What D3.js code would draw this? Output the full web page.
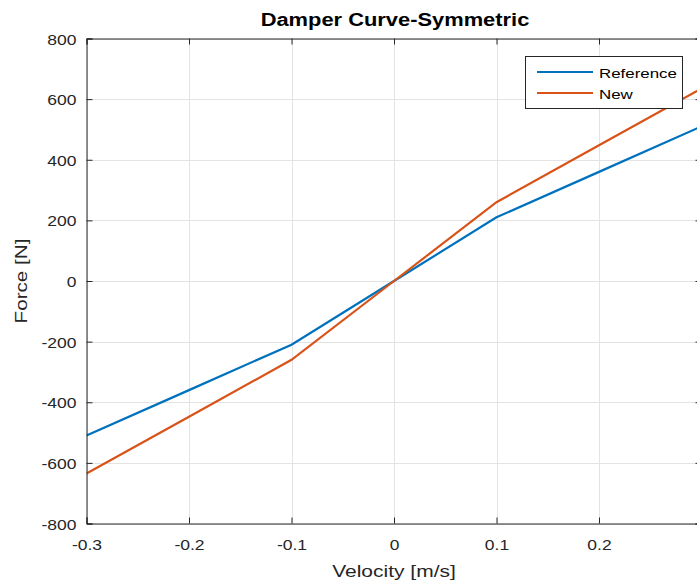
<!DOCTYPE html>
<html>
<head>
<meta charset="utf-8">
<script src="https://cdn.jsdelivr.net/npm/d3@7"></script>
<style>
  html, body { margin: 0; padding: 0; background: #fff; overflow: hidden; }
  text { font-family: "Liberation Sans", Arial, Helvetica, sans-serif; }
</style>
</head>
<body>
<svg id="chart" width="697" height="588"></svg>
<script>
const velocity = [-0.3, -0.2, -0.1, 0, 0.1, 0.2, 0.3];
const referenceForce = [-510, -360, -210, 0, 210, 360, 510];
const newForce = [-635, -448, -260, 0, 260, 448, 635];
const seriesNames = ["Reference", "New"];
const seriesColors = ["#0072BD", "#D95319"];
const xTicks = [-0.3, -0.2, -0.1, 0, 0.1, 0.2];
const yTicks = [-800, -600, -400, -200, 0, 200, 400, 600, 800];

(function () {
const svg = d3.select("#chart");
const pL = 86.5, pR = 701.5, pT = 38.5, pB = 523.5;
const x = d3.scaleLinear().domain([-0.3, 0.3]).range([pL, pR]);
const y = d3.scaleLinear().domain([-800, 800]).range([pB, pT]);
const fmt = d => String(d);

svg.append("rect").attr("x", pL).attr("y", pT).attr("width", pR - pL).attr("height", pB - pT).attr("fill", "#fff");

// grid
const g = svg.append("g");
g.selectAll(".vg").data(xTicks).enter().append("line")
  .attr("x1", d => Math.round(x(d)) + 0.5).attr("x2", d => Math.round(x(d)) + 0.5)
  .attr("y1", pT).attr("y2", pB).attr("stroke", "#e3e3e3").attr("stroke-width", 1);
g.selectAll(".hg").data(yTicks).enter().append("line")
  .attr("y1", d => Math.round(y(d)) + 0.5).attr("y2", d => Math.round(y(d)) + 0.5)
  .attr("x1", pL).attr("x2", pR).attr("stroke", "#e3e3e3").attr("stroke-width", 1);

// clip
svg.append("clipPath").attr("id", "clip").append("rect")
  .attr("x", pL).attr("y", pT).attr("width", pR - pL).attr("height", pB - pT);

const series = [referenceForce, newForce];
const line = d3.line().x((d, i) => x(velocity[i])).y(d => y(d));
series.forEach((s, k) => {
  svg.append("path").datum(s).attr("d", line).attr("fill", "none")
    .attr("stroke", seriesColors[k]).attr("stroke-width", 2.2)
    .attr("clip-path", "url(#clip)");
});

// axes
const axisColor = "#262626";
const xAxisB = d3.axisBottom(x).tickValues(xTicks).tickSize(-6).tickPadding(17).tickFormat(fmt);
const xAxisT = d3.axisTop(x).tickValues(xTicks).tickSize(-6).tickFormat("");
const yAxisL = d3.axisLeft(y).tickValues(yTicks).tickSize(-6).tickPadding(10).tickFormat(fmt);
const yAxisR = d3.axisRight(y).tickValues(yTicks).tickSize(-6).tickFormat("");

function style(sel) {
  sel.select(".domain").attr("stroke", axisColor).attr("stroke-width", 1);
  sel.selectAll(".tick line").attr("stroke", axisColor);
  sel.selectAll(".tick text").attr("fill", axisColor).attr("font-size", 14)
    .attr("font-family", '"Liberation Sans", Arial, sans-serif');
}
svg.append("g").attr("transform", `translate(0,${pB})`).call(xAxisB).call(style);
svg.append("g").attr("transform", `translate(0,${pT})`).call(xAxisT).call(style);
const yl = svg.append("g").attr("transform", `translate(${pL},0)`).call(yAxisL).call(style);
yl.selectAll(".tick text").attr("dy", "0.4em");
svg.append("g").attr("transform", `translate(${pR},0)`).call(yAxisR).call(style);

// title and labels
svg.append("text").attr("x", 395).attr("y", 26).attr("text-anchor", "middle")
  .attr("font-size", 17.5).attr("font-weight", "bold").attr("fill", "#000").text("Damper Curve-Symmetric");
svg.append("text").attr("x", 394).attr("y", 577).attr("text-anchor", "middle")
  .attr("font-size", 16.8).attr("fill", axisColor).text("Velocity [m/s]");
svg.append("text").attr("transform", "translate(27,281) rotate(-90)").attr("text-anchor", "middle")
  .attr("font-size", 16.5).attr("fill", axisColor).text("Force [N]");

// legend
const lg = svg.append("g");
lg.append("rect").attr("x", 525.5).attr("y", 56.5).attr("width", 157).attr("height", 52)
  .attr("fill", "#fff").attr("stroke", axisColor).attr("stroke-width", 1);
seriesNames.forEach((name, k) => {
  const yy = 72 + k * 21;
  lg.append("line").attr("x1", 537).attr("x2", 593).attr("y1", yy).attr("y2", yy)
    .attr("stroke", seriesColors[k]).attr("stroke-width", 2.2);
  lg.append("text").attr("x", 599).attr("y", yy + 6).attr("font-size", 13.5)
    .attr("fill", "#000").text(name);
});

// widen all text horizontally to match the reference rendering
svg.selectAll("text").each(function () {
  const len = this.getComputedTextLength();
  if (len > 0) {
    this.setAttribute("textLength", (len * 1.25).toFixed(1));
    this.setAttribute("lengthAdjust", "spacingAndGlyphs");
  }
});
})();
</script>
</body>
</html>
